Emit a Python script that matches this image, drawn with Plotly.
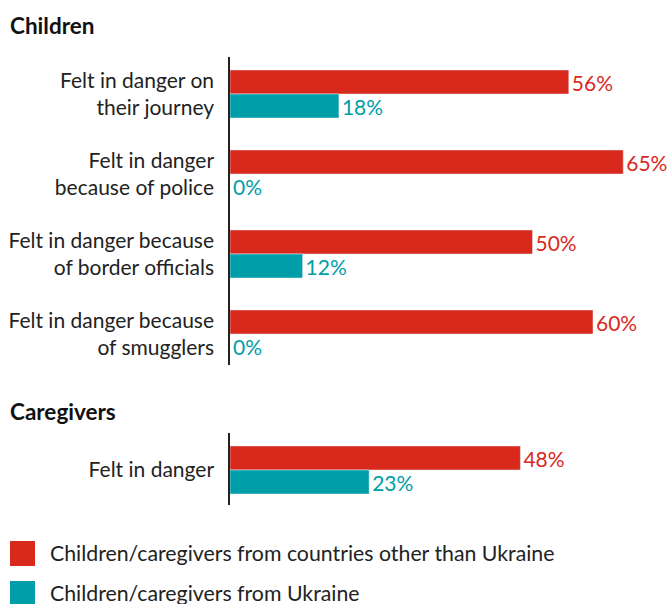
import plotly.graph_objects as go

W, H = 670, 604

child_labels = ["Felt in danger on<br>their journey",
                "Felt in danger<br>because of police",
                "Felt in danger because<br>of border officials",
                "Felt in danger because<br>of smugglers"]
child_other = [56, 65, 50, 60]
child_ukraine = [18, 0, 12, 0]

care_labels = ["Felt in danger"]
care_other = [48]
care_ukraine = [23]

series_names = ["Children/caregivers from countries other than Ukraine",
                "Children/caregivers from Ukraine"]
RED = "#d9291c"
TEAL = "#009ea8"
FONT = "Lato, 'Open Sans', sans-serif"
FS = 21

fig = go.Figure()

def add_bars(labels, other, ukraine, xa, ya):
    pos = list(range(len(labels)))
    for vals, col, name in [(other, RED, series_names[0]), (ukraine, TEAL, series_names[1])]:
        fig.add_trace(go.Bar(
            y=pos, x=vals, orientation="h", marker_color=col, name=name,
            text=[f"{v}%" for v in vals], textposition="outside",
            textfont=dict(color=col, size=FS, family=FONT),
            constraintext="none", cliponaxis=False, showlegend=False,
            xaxis=xa, yaxis=ya, hoverinfo="skip"))

add_bars(child_labels, child_other, child_ukraine, "x", "y")
add_bars(care_labels, care_other, care_ukraine, "x2", "y2")

def px(p):
    return p / W

def py(p):
    return 1 - p / H

xr = [0, (670 - 230) / 6.05]
xdom = [px(230), 1]
common_x = dict(range=xr, domain=xdom, showgrid=False, zeroline=False,
                showticklabels=False, showline=False, fixedrange=True)
ycommon = dict(tickfont=dict(size=FS, family=FONT, color="#222222"),
               showline=True, linecolor="#222222", linewidth=1.5,
               ticks="", ticklabelstandoff=10, showgrid=False, zeroline=False,
               fixedrange=True)
fig.update_layout(
    width=W, height=H, margin=dict(l=0, r=0, t=0, b=0),
    paper_bgcolor="white", plot_bgcolor="white",
    barmode="group", bargap=0.4, bargroupgap=0,
    font=dict(family=FONT, color="#222222"),
    xaxis=dict(**common_x, anchor="y"),
    xaxis2=dict(**common_x, anchor="y2"),
    yaxis=dict(domain=[py(365), py(57)], range=[3.3875, -0.4625],
               tickvals=list(range(len(child_labels))), ticktext=child_labels,
               anchor="x", **ycommon),
    yaxis2=dict(domain=[py(505), py(433)], range=[0.4375, -0.4625],
                tickvals=list(range(len(care_labels))), ticktext=care_labels,
                anchor="x2", **ycommon),
)

# section titles
for txt, yc in [("Children", 25), ("Caregivers", 411)]:
    fig.add_annotation(x=px(8), y=py(yc), xref="paper", yref="paper",
                       text=f"<b>{txt}</b>", showarrow=False, xanchor="left",
                       yanchor="middle", font=dict(size=22.5, family=FONT, color="#111111"))

# legend
for i, (name, col) in enumerate(zip(series_names, [RED, TEAL])):
    top = 541 + 40 * i
    fig.add_shape(type="rect", xref="paper", yref="paper",
                  x0=px(10), x1=px(35), y0=py(top + 25), y1=py(top),
                  fillcolor=col, line_width=0)
    fig.add_annotation(x=px(48), y=py(top + 12), xref="paper", yref="paper",
                       text=name, showarrow=False, xanchor="left", yanchor="middle",
                       font=dict(size=21.3, family=FONT, color="#222222"))

fig.write_html("out.html", config={"displayModeBar": False},
               post_script="document.body.style.margin='0';document.body.style.overflow='hidden';")
